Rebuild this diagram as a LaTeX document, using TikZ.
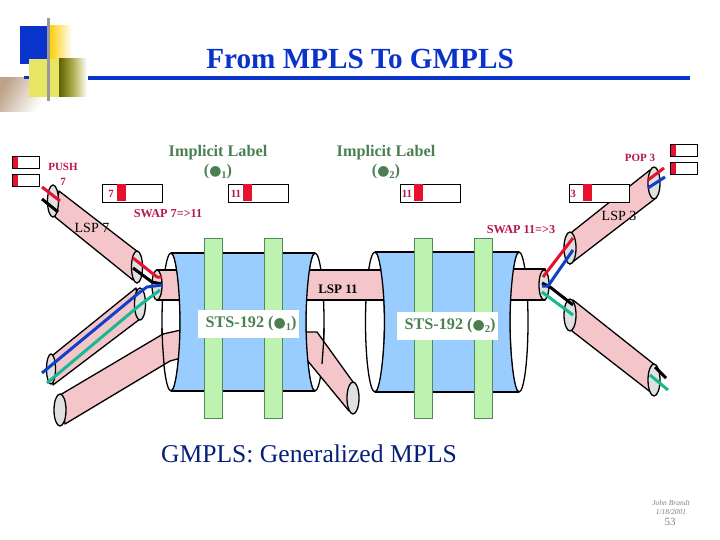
\documentclass[tikz,border=0pt]{standalone}
\usepackage{fontspec}
\setmainfont{Liberation Serif}
\newfontfamily\dotfont{DejaVu Sans}
\definecolor{ttl}{HTML}{0A33CC}
\definecolor{grn}{HTML}{4A8050}
\definecolor{crim}{HTML}{B8164A}
\definecolor{pinkt}{HTML}{F4C6CA}
\definecolor{blueb}{HTML}{99CCFF}
\definecolor{barg}{HTML}{BDF2B0}
\definecolor{barl}{HTML}{4F8A5A}
\definecolor{redb}{HTML}{E8102E}
\definecolor{wblue}{HTML}{1040C8}
\definecolor{wteal}{HTML}{18B890}
\definecolor{hole}{HTML}{E0E0E0}
\definecolor{logoy}{HTML}{E8E464}
\newcommand{\lam}[1]{{\fontsize{14}{14}\dotfont ●}\raisebox{-3pt}{\fontsize{10.5}{10.5}\selectfont #1}}
\tikzset{
  x=1pt,y=-1pt,
  tube/.style={fill=pinkt,draw=black,line width=1.3pt,line join=round},
  capend/.style={fill=hole,draw=black,line width=1.3pt},
  wire/.style={line width=3pt,line cap=butt,line join=round},
  ring/.style={fill=white,draw=black,line width=1.3pt},
  body/.style={fill=blueb,draw=none},
  edge/.style={draw=black,line width=1.3pt},
  bar/.style={fill=barg,draw=barl,line width=0.8pt},
  labbox/.style={fill=white,draw=black,line width=0.9pt},
  redmark/.style={fill=redb,draw=none},
  redlab/.style={text=crim,font=\fontsize{11}{15}\selectfont\bfseries,inner sep=0pt,align=center},
  swaplab/.style={text=crim,font=\fontsize{12.2}{14}\selectfont\bfseries,inner sep=0pt},
  implab/.style={text=grn,font=\fontsize{16.2}{18}\selectfont\bfseries,inner sep=0pt,align=center},
  lsplab/.style={text=black,font=\fontsize{14}{16}\selectfont,inner sep=0pt},
  stslab/.style={fill=white,text=grn,font=\fontsize{16.2}{18}\selectfont\bfseries,inner sep=0pt,minimum width=101,minimum height=28}
}
\begin{document}
\begin{tikzpicture}
\useasboundingbox (0,0) rectangle (720,540);
% logo
\shade[shading=axis,bottom color=white,top color=white!40!brown!70!gray,shading angle=60] (0,78) rectangle (44,112);
\fill[ttl] (20,26) rectangle (47,64);
\shade[left color=yellow!60!orange,right color=white] (49,26) rectangle (72,59);
\fill[ttl] (24,76) rectangle (30,79);
\fill[logoy] (29,59) rectangle (59,97);
\shade[left color=olive!75!black,right color=white] (59,59) rectangle (87,97);
\fill[gray!80] (47,18) rectangle (50,101);
\fill[ttl] (88,76.5) rectangle (690,80);
\node[text=ttl,font=\fontsize{29.2}{32}\selectfont\bfseries,inner sep=0pt] (title) at (360,59) {From MPLS To GMPLS};
% top texts
\node[implab] (il1) at (218,153) {Implicit Label};
\node[implab] (il1b) at (218,172) {(\lam{1})};
\node[implab] (il2) at (386,153) {Implicit Label};
\node[implab] (il2b) at (386,172) {(\lam{2})};
% small caps
\foreach \xx/\yy in {12/156,12/174,670/144,670/162}{
  \fill[white] (\xx,\yy) rectangle ++(27,12);
  \fill[redmark] (\xx,\yy) rectangle ++(6,12);
  \draw[black,line width=.8pt] (\xx,\yy) rectangle ++(27,12);
}
\node[redlab] (push) at (63,174.5) {PUSH\\7};
\node[redlab] (pop) at (640,158) {POP 3};
\node[swaplab] (sw1) at (168,214) {SWAP 7=>11};
\node[swaplab] (sw2) at (521,230) {SWAP 11=>3};
% cylinder rings
\draw[ring] (171,322) ellipse [x radius=9,y radius=69];
\draw[ring] (315,322) ellipse [x radius=9,y radius=69];
\draw[ring] (375,322) ellipse [x radius=9.5,y radius=70];
\draw[ring] (519,322) ellipse [x radius=9,y radius=70];
% tubes at the rings
\draw[tube] (157,270) -- (181,270) -- (181,300) -- (157,300) -- cycle;
\draw[tube] (300,270) -- (391,270) -- (391,300) -- (300,300) -- cycle;
\draw[tube] (505,269) -- (545,269) -- (545,300) -- (505,300) -- cycle;
\draw[tube] (60,395) -- (163,334) -- (181,330) -- (181,358) -- (170,361) -- (65,424) -- cycle;
\draw[tube] (300,332) -- (317,332) -- (353,382) -- (349,411) -- (307,360) -- (300,358) -- cycle;
\draw[edge] (162,328) -- (162.6,345) -- (164,364);
\draw[edge] (324,328) -- (323.4,345) -- (322,364);
% outer tubes
\draw[tube] (59,191) -- (138,252) -- (133,280) -- (55,217) -- cycle;
\draw[tube] (53,355) -- (136,288) -- (140,319) -- (53,385) -- cycle;
\draw[tube] (572,232) -- (650,170) -- (656,198) -- (570,264) -- cycle;
\draw[tube] (573,300) -- (655,365) -- (653,394) -- (572,331) -- cycle;
% label boxes
\foreach \xx/\rr/\tt/\tx in {102/14.5/7/111,228/15/11/236,400/13.5/11/407,569/14/3/573}{
  \draw[labbox] (\xx,184) rectangle ++(60,18);
  \fill[redmark] (\xx+\rr,184.5) rectangle ++(9,17);
  \node[redlab] at (\tx,194) {\tt};
}
% bodies
\path[body] (171,253) -- (315,253) .. controls (310,253) and (306,291) .. (306,322) .. controls (306,353) and (310,391) .. (315,391) -- (171,391) .. controls (176,391) and (180,353) .. (180,322) .. controls (180,291) and (176,253) .. (171,253) -- cycle;
\draw[edge] (171,253) -- (315,253);
\draw[edge] (171,391) -- (315,391);
\draw[edge] (171,253) .. controls (176,253) and (180,291) .. (180,322) .. controls (180,353) and (176,391) .. (171,391);
\draw[edge] (315,253) .. controls (310,253) and (306,291) .. (306,322) .. controls (306,353) and (310,391) .. (315,391);
\path[body] (375,252) -- (519,252) .. controls (514,252) and (510,291) .. (510,322) .. controls (510,353) and (514,392) .. (519,392) -- (375,392) .. controls (380,392) and (384.5,353) .. (384.5,322) .. controls (384.5,291) and (380,252) .. (375,252) -- cycle;
\draw[edge] (375,252) -- (519,252);
\draw[edge] (375,392) -- (519,392);
\draw[edge] (375,252) .. controls (380,252) and (384.5,291) .. (384.5,322) .. controls (384.5,353) and (380,392) .. (375,392);
\draw[edge] (519,252) .. controls (514,252) and (510,291) .. (510,322) .. controls (510,353) and (514,392) .. (519,392);
% green bars
\foreach \xx in {204,264,414,474}{\draw[bar] (\xx,238) rectangle ++(18.5,180);}
\node[stslab] (sts1) at (248.5,324) {\hspace*{5pt}STS-192 (\lam{1})};
\node[stslab] (sts2) at (447.5,325.5) {\hspace*{5pt}STS-192 (\lam{2})};
\node[lsplab] (lsp11) at (338,289) {\bfseries\fontsize{13}{15}\selectfont LSP 11};
% tube ends
\draw[capend] (53,201) ellipse [x radius=5.5,y radius=16];
\draw[capend] (137,267) ellipse [x radius=5.5,y radius=16];
\draw[capend] (51,369) ellipse [x radius=4.5,y radius=15];
\draw[capend] (140,304) ellipse [x radius=5.5,y radius=16];
\draw[capend] (60,410) ellipse [x radius=6,y radius=16];
\draw[capend] (353,398) ellipse [x radius=6,y radius=16];
\draw[capend] (157,285) ellipse [x radius=5,y radius=15];
\draw[capend] (544,285) ellipse [x radius=5,y radius=15];
\draw[capend] (570,248) ellipse [x radius=6,y radius=16];
\draw[capend] (654,183) ellipse [x radius=6,y radius=16];
\draw[capend] (570,315) ellipse [x radius=6,y radius=16];
\draw[capend] (654,380) ellipse [x radius=6,y radius=16];
% wires
\draw[wire,black] (42,199) -- (58,212);
\draw[wire,redb] (42,187) -- (60,201);
\draw[wire,black] (133,268) -- (152,282) -- (162,284);
\draw[wire,redb] (133,258) -- (157,277) -- (162,277);
\draw[wire,wblue] (42,373) -- (140,292) -- (147,287) -- (162,285);
\draw[wire,wteal] (47,383) -- (140,305) -- (160,290);
\draw[wire,black] (542,283) -- (550,287) -- (573,305);
\draw[wire,wteal] (542,292) -- (573,315);
\draw[wire,redb] (543,277) -- (573,238);
\draw[wire,wblue] (542,286) -- (548,286) -- (573,250);
\draw[wire,redb] (648,180) -- (664,168);
\draw[wire,wblue] (648,188) -- (665,177);
\draw[wire,black] (655,367) -- (666,378);
\draw[wire,wteal] (650,375) -- (668,390);
% labels over tubes
\node[lsplab] (lsp7) at (92,228) {LSP 7};
\node[lsplab] (lsp3) at (619,216) {LSP 3};
\node[text=ttl!60!black,font=\fontsize{25.6}{28}\selectfont,inner sep=0pt] (gm) at (309,454) {GMPLS: Generalized MPLS};
\node[text=gray,font=\fontsize{7.5}{9}\selectfont\itshape,inner sep=0pt,align=center] (ft) at (671,507.5) {John Brandt\\1/18/2001};
\node[text=gray,font=\fontsize{11}{12}\selectfont,inner sep=0pt] (pg) at (670,522) {53};
\end{tikzpicture}
\end{document}
